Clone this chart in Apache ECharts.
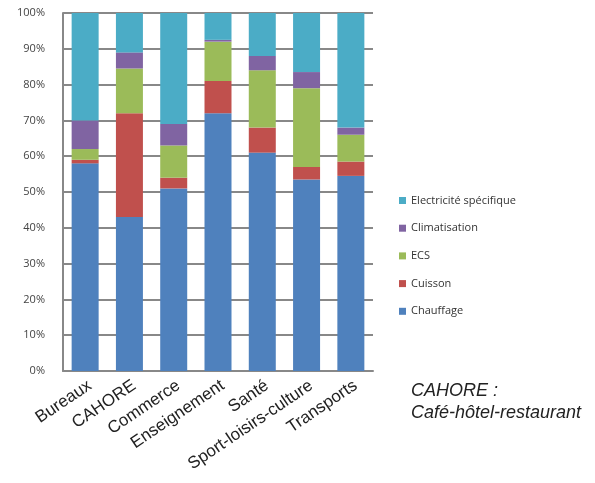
<!DOCTYPE html>
<html>
<head>
<meta charset="utf-8">
<script src="https://cdn.jsdelivr.net/npm/echarts@6/dist/echarts.min.js"></script>
<style>
  html, body { margin: 0; padding: 0; background: #fff; }
  #chart { width: 595px; height: 483px; }
</style>
</head>
<body>
<div id="chart"></div>
<script>
// Répartition des consommations par usage, par branche du tertiaire (%)
const categories = ['Bureaux', 'CAHORE', 'Commerce', 'Enseignement', 'Santé', 'Sport-loisirs-culture', 'Transports'];
const chauffage     = [58, 43, 51, 72, 61, 53.5, 54.5];
const cuisson       = [1, 29, 3, 9, 7, 3.5, 4];
const ecs           = [3, 12.5, 9, 11, 16, 22, 7.5];
const climatisation = [8, 4.5, 6, 0.5, 4, 4.5, 2];
const electricite   = [30, 11, 31, 7.5, 12, 16.5, 32];
const yTicks = [0, 10, 20, 30, 40, 50, 60, 70, 80, 90, 100];

const seriesDefs = [
  { name: 'Chauffage', data: chauffage, color: '#4f81bd' },
  { name: 'Cuisson', data: cuisson, color: '#c0504d' },
  { name: 'ECS', data: ecs, color: '#9bbb59' },
  { name: 'Climatisation', data: climatisation, color: '#8064a2' },
  { name: 'Electricité spécifique', data: electricite, color: '#4bacc6' }
];

const chart = echarts.init(document.getElementById('chart'), null, { renderer: 'canvas' });
chart.setOption({
  animation: false,
  backgroundColor: '#ffffff',
  grid: { left: 63, right: 222, top: 13, bottom: 112 },
  legend: {
    orient: 'vertical',
    left: 394,
    top: 190,
    itemGap: 16.7,
    itemWidth: 7,
    itemHeight: 7,
    icon: 'rect',
    data: seriesDefs.map(s => s.name).reverse(),
    textStyle: { fontFamily: 'Open Sans', fontSize: 11, color: '#333' }
  },
  xAxis: {
    type: 'category',
    data: categories,
    axisLine: { lineStyle: { color: '#888', width: 2 } },
    axisTick: { show: false },
    axisLabel: {
      interval: 0,
      rotate: 34,
      margin: 6,
      verticalAlign: 'top',
      fontFamily: 'Liberation Sans',
      fontSize: 17,
      color: '#222'
    }
  },
  yAxis: {
    type: 'value',
    min: yTicks[0],
    max: yTicks[yTicks.length - 1],
    interval: 10,
    axisLine: { show: true, lineStyle: { color: '#888', width: 2 } },
    axisTick: { show: false },
    splitLine: { lineStyle: { color: '#888', width: 2 } },
    axisLabel: {
      formatter: v => v + '%',
      fontFamily: 'Open Sans',
      fontSize: 11,
      color: '#444',
      margin: 18
    }
  },
  series: seriesDefs.map(s => ({
    name: s.name,
    type: 'bar',
    stack: 'total',
    barWidth: 27,
    data: s.data,
    itemStyle: { color: s.color }
  })),
  graphic: [
    {
      type: 'text',
      left: 411,
      top: 380,
      style: {
        text: 'CAHORE :\nCafé-hôtel-restaurant',
        fontFamily: 'Liberation Sans',
        fontStyle: 'italic',
        fontSize: 18,
        lineHeight: 22,
        fill: '#222'
      }
    }
  ]
});
</script>
</body>
</html>
